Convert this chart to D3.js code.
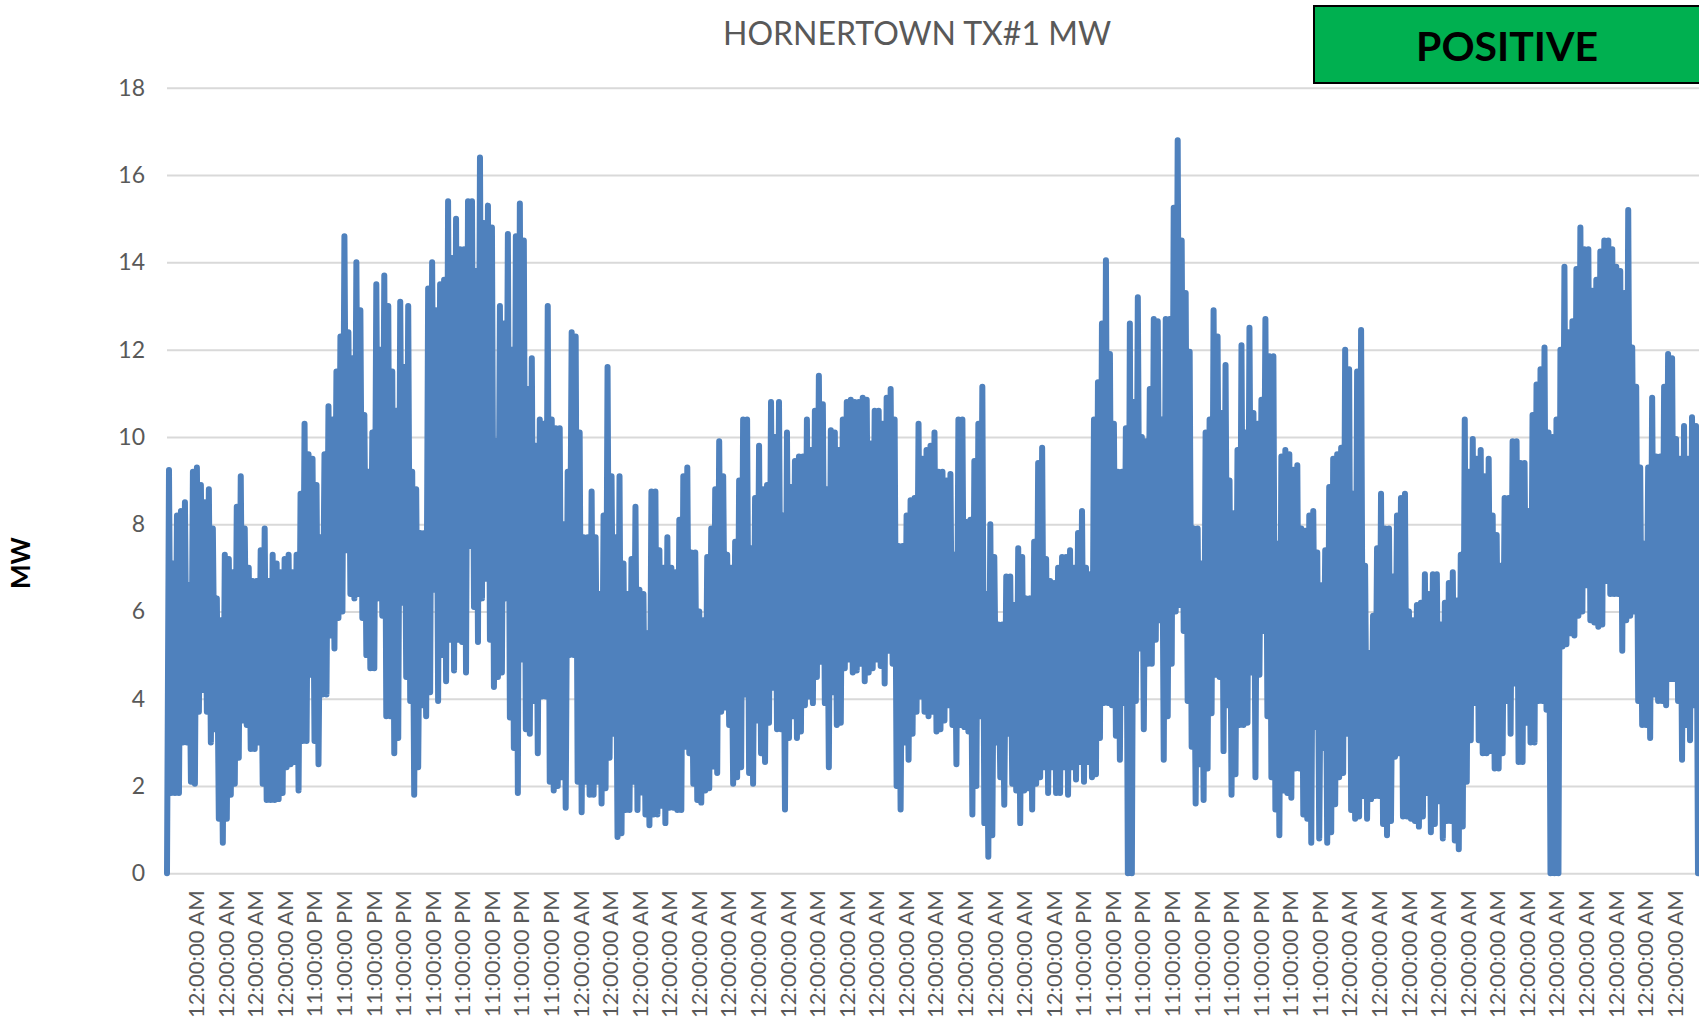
<!DOCTYPE html>
<html>
<head>
<meta charset="utf-8">
<script src="https://cdn.jsdelivr.net/npm/d3@7"></script>
<style>
  html, body { margin: 0; padding: 0; background: #fff; overflow: hidden; }
  text { font-family: Lato, "Open Sans", sans-serif; }
</style>
</head>
<body>
<script>
// MW readings: top and bottom of the band, left to right
const highsA = [9.24,7.1,8.2,8.3,8.5,6.6,9.2,9.3,8.9,8.5,8.8,7.9,6.3,5.8,7.3,7.2,6.9,8.4,9.1,7.9,7.0,6.7,6.7,7.4,7.9,6.7,7.3,7.1,6.9,7.2,7.3,6.9,7.3,8.7,10.3,9.6,9.5,8.9,7.7,9.6,10.7,10.4,11.5,12.3,14.6,12.4,11.8,14.0,12.9,10.5,9.2,10.1,13.5,12,13.7,13,11.5,10.6,13.1,11.6,13,9.2,8.8,7.8,7.8,13.4,14,12.9,13.5,13.6,15.4,14.1,15,14.3,14.3,15.4,15.4,13.8,16.4,14.9,15.3,14.8,9.9,13,12.6,14.65,12.0,14.6,15.35,14.5,11.1,11.8,9.8,10.4,10.3,13,10.4,10.2,10.2];
const lowsA = [1.84,1.84,1.84,3,3,2.1,2.05,3.7,4.2,3.7,3,3.3,1.25,0.7,1.25,1.8,2.05,2.65,3.5,3.4,2.85,2.85,3,2.05,1.68,1.68,1.68,1.7,1.84,2.43,2.5,2.55,1.9,3.03,3.03,4.55,3.03,2.5,4.1,4.1,5.45,5.15,5.85,6,7.4,6.4,6.3,6.4,5.85,5,4.7,4.7,6.3,5.9,3.6,3.6,2.75,3.1,6.2,4.5,3.95,1.8,2.43,3.85,3.6,4.15,6.5,3.95,5.0,4.4,5.35,4.65,5.35,5.3,4.6,7.5,6.1,5.3,6.3,6.75,5.35,4.27,4.5,4.6,6.3,3.57,2.87,1.84,4.9,3.3,3.2,3.95,2.75,4.05,4.05,2.1,1.9,2.0,2.2];

const highsB = [8,9.2,12.4,12.3,10.1,7.7,7.7,8.75,7.7,6.4,8.2,11.6,9.1,7.7,9.1,7.1,6.4,7.2,8.4,6.5,6.4,5.5,8.75,8.75,7.4,7,7.7,7,6.9,8.1,9.1,9.3,7.35,7.35,6,5.8,7.25,7.9,8.8,9.9,9.1,7.3,7,7.6,9,10.4,10.4,7.45,8.6,9.8,8.8,8.9,10.8,10,10.8,8.2,10.1,8.85,9.45,9.55,9.55,10.4,9.7,10.6,11.4,10.75,8.8,10.15,10.1,9.7,10.4,10.8,10.85,10.8,10.8,10.9,10.85,9.85,10.6,10.6,10.3,10.9,11.1,10.4,7.5,7.5,8.2,8.55,8.6,10.3,9.5,9.7,9.8,10.1,9.2,9.2,9,9.15,7.3,10.4];
const lowsB = [1.5,5,5,2.1,1.4,2.1,1.8,1.8,2.1,1.6,1.95,2.65,3.2,0.83,0.92,1.45,1.45,2.1,1.45,1.85,1.35,1.1,1.35,1.35,1.55,1.15,1.5,1.5,1.45,1.45,2.9,2.75,2.05,1.68,1.62,1.9,1.95,2.45,2.3,3.7,3.8,3.4,2.05,2.2,2.43,4.1,2.3,2.05,3.5,2.75,2.55,3.45,4.25,3.3,3.3,1.46,3.1,3.6,3.1,3.25,3.85,4.05,3.9,4.5,4.85,3.9,2.43,4.15,3.4,3.45,4.7,4.9,4.6,4.65,4.8,4.4,4.6,4.7,4.9,4.75,4.35,5.1,4.8,2,1.46,3,2.6,3.2,3.7,4.05,3.7,3.6,3.7,3.25,3.3,3.5,3.85,3.4,2.5,3.4];

const highsC = [10.4,8.05,8.1,9.45,10.3,11.15,6.4,8,7.25,5.7,5.7,6.8,6.8,6.15,7.45,7.25,6.3,6.3,7.6,9.4,9.75,7.2,6.7,6.65,7,7.25,7.25,7.4,7,7.8,8.3,7,6.85,10.4,11.25,12.6,14.05,11.9,10.3,9.2,9.2,10.2,12.6,10.8,13.2,10,9.9,11.1,12.7,12.65,10.4,12.7,12.7,15.25,16.8,14.5,13.3,11.95,7.9,7.9,7.1,10.1,10.4,12.9,12.3,10.55,11.65,9,8.25,9.7,12.1,10.1,12.5,10.55,10.3,10.85,12.7,11.85,11.85,7.55,9.55,9.7,9.6,9.25,9.35,7.9,7.85,8.2,8.3,7.35,6.6,7.4];
const lowsC = [3.35,3.25,1.35,2,3.6,1.15,0.38,0.87,3,2.2,1.57,3.2,2.05,1.9,1.15,1.9,1.95,1.46,2.05,2.2,2.43,1.84,2.43,1.84,1.84,2.43,1.8,2.43,2.15,2.55,2.1,2.55,2.2,2.27,3.1,3.9,3.9,3.85,3.15,2.6,3.9,0,0,3.95,5.15,3.3,4.8,4.8,5.35,5.8,2.6,3.6,4.8,6,6.15,5.55,3.95,2.9,1.6,2.5,1.68,2.4,3.67,4.55,4.5,2.8,3.85,1.8,2.27,3.4,3.4,3.45,4.6,2.2,4.55,5.55,3.6,2.2,1.46,0.87,1.9,1.84,1.73,2.4,2.4,1.35,1.25,0.7,3.35,0.8,2.87,0.7];

const highsD = [8.85,9.5,9.6,9.75,12,11.55,8.7,11.5,12.45,7.05,5.05,5.9,7.45,8.7,7.9,7.9,6.8,8.2,8.6,8.7,6,5.8,6.15,6.2,6.85,6.4,6.85,6.85,5.7,6.2,6.65,6.9,6.25,7.3,10.4,9.2,9.95,9.5,9.7,9.1,9.5,8.2,7.75,7.05,8.6,8.6,9.9,9.9,9.4,9.4,8.3,10.5,11.2,11.55,12.05,10.1,10,10.4,12,13.9,12.4,12.65,13.85,14.8,14.3,14.3,13.35,13.6,14.25,14.5,14.5,14.3,13.9,13.8,13.3,15.2,12.05,11.15,9.3,7.55,9.3,10.9,9.55,9.55,11.15,11.9,11.8,9.95,9.5,10.25,9.5,10.45,10.25];
const lowsD = [0.94,1.58,2.2,2.3,3.2,1.45,1.25,1.3,1.77,1.25,1.7,1.77,1.77,1.13,0.87,1.2,2.67,2.75,1.3,1.3,1.25,1.2,1.07,1.3,1.84,0.94,1.13,1.65,0.8,1.2,1.2,0.75,0.55,1.07,2.1,3.05,3.9,3.05,2.75,2.75,2.8,2.4,2.4,2.75,3.95,3.2,4.35,2.55,2.55,3.45,3,3,3.95,3.95,3.75,0,0,0,5.2,5.25,5.5,5.45,5.9,6,6.6,5.8,5.75,5.65,5.7,6.7,6.4,6.4,6.4,5.1,5.8,5.9,6,3.95,3.4,3.4,3.1,4.1,3.95,3.95,3.85,4.45,4.45,3.95,2.6,3.4,3.05,3.85,0];

const highs = highsA.concat(highsB, highsC, highsD);
const lows = lowsA.concat(lowsB, lowsC, lowsD);

// series starts at 0, then goes up and down so the line fills the band
const mw = [0];
highs.forEach((h, i) => { mw.push(h); mw.push(lows[i]); });

const yTicks = [0, 2, 4, 6, 8, 10, 12, 14, 16, 18];

const am = "12:00:00 AM";
const pm = "11:00:00 PM";
const xLabels = [am,am,am,am,pm,pm,pm,pm,pm,pm,pm,pm,pm,am,am,am,am,am,am,am,am,am,am,am,am,am,am,am,am,am,pm,pm,pm,pm,pm,pm,pm,pm,pm,am,am,am,am,am,am,am,am,am,am,am,am];

let width = 1699;
let height = 1020;
let plotLeft = 167;
let plotBottom = 873.3;
let plotTop = 87.8;

let svg = d3.select("body").append("svg")
    .attr("width", width)
    .attr("height", height)
    .style("display", "block");

let x = d3.scaleLinear().domain([0, mw.length - 1]).range([plotLeft, width - 1]);
let y = d3.scaleLinear().domain([0, 18]).range([plotBottom, plotTop]);
let xLabel = d3.scalePoint().domain(d3.range(xLabels.length)).range([196, 1674.5]);

// gridlines and y labels
let yAxis = svg.append("g")
    .attr("transform", `translate(${plotLeft},0)`)
    .call(d3.axisLeft(y).tickValues(yTicks).tickSize(-(width - plotLeft)).tickPadding(22));
yAxis.select(".domain").remove();
yAxis.selectAll("line").attr("stroke", "#d9d9d9").attr("stroke-width", 2);
yAxis.selectAll("text")
    .attr("fill", "#595959")
    .style("font-size", "23px");

// x labels, turned to read upward
let xAxis = svg.append("g")
    .attr("transform", `translate(0,${plotBottom})`)
    .call(d3.axisBottom(xLabel).tickSize(0).tickFormat(i => xLabels[i]));
xAxis.select(".domain").remove();
xAxis.selectAll("text")
    .attr("fill", "#595959")
    .style("font-size", "22px")
    .attr("text-anchor", "end")
    .attr("transform", "rotate(-90)")
    .attr("x", -17)
    .attr("y", 0)
    .attr("dy", "0.35em");

let line = d3.line()
    .x((d, i) => x(i))
    .y(d => y(d));

svg.append("path")
    .datum(mw)
    .attr("d", line)
    .attr("fill", "none")
    .attr("stroke", "#4f81bd")
    .attr("stroke-width", 6)
    .attr("stroke-linejoin", "round")
    .attr("stroke-linecap", "round");

svg.append("text")
    .attr("x", 917)
    .attr("y", 45)
    .attr("text-anchor", "middle")
    .attr("fill", "#595959")
    .style("font-size", "32px")
    .text("HORNERTOWN TX#1 MW");

svg.append("text")
    .attr("transform", "translate(30,563) rotate(-90)")
    .attr("text-anchor", "middle")
    .attr("fill", "#000")
    .style("font-size", "26px")
    .style("font-weight", "bold")
    .text("MW");

svg.append("rect")
    .attr("x", 1314)
    .attr("y", 6)
    .attr("width", 400)
    .attr("height", 77)
    .attr("fill", "#00b050")
    .attr("stroke", "#000")
    .attr("stroke-width", 2);

svg.append("text")
    .attr("x", 1507)
    .attr("y", 61)
    .attr("text-anchor", "middle")
    .attr("fill", "#000")
    .style("font-size", "41px")
    .style("font-weight", "bold")
    .text("POSITIVE");
</script>
</body>
</html>
